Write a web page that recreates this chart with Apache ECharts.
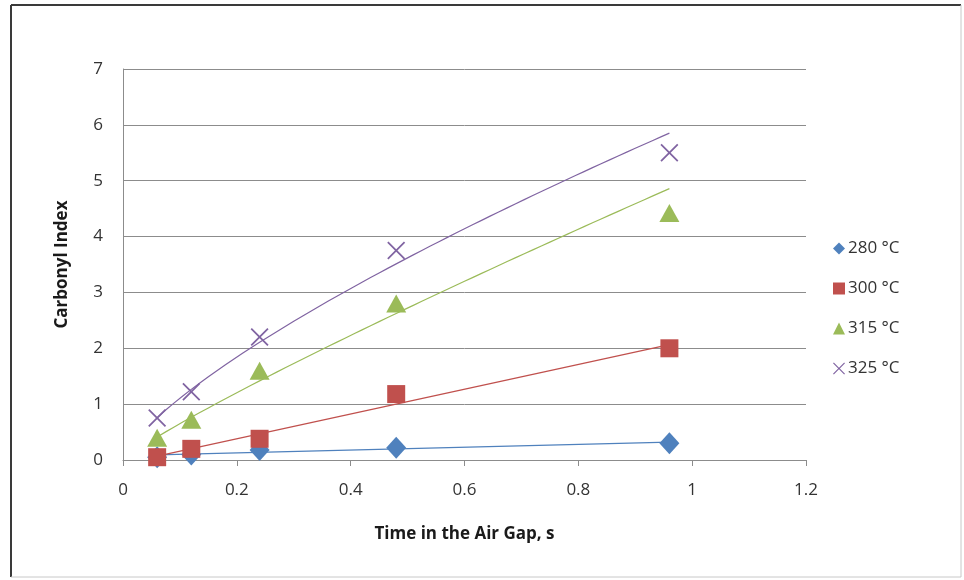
<!DOCTYPE html>
<html>
<head>
<meta charset="utf-8">
<script src="https://cdn.jsdelivr.net/npm/echarts@6/dist/echarts.min.js"></script>
<style>
html,body{margin:0;padding:0;background:#fff;}
#chart{width:964px;height:580px;}
</style>
</head>
<body>
<div id="chart"></div>
<script>
// ---- data ----
var timeValues = [0.06, 0.12, 0.24, 0.48, 0.96];
var seriesNames = ['280 °C', '300 °C', '315 °C', '325 °C'];
var ci280 = [0.05, 0.10, 0.18, 0.22, 0.30];
var ci300 = [0.05, 0.20, 0.38, 1.18, 2.00];
var ci315 = [0.40, 0.72, 1.60, 2.80, 4.42];
var ci325 = [0.75, 1.22, 2.20, 3.75, 5.50];
var trendTypes = ['linear', 'linear', 'power', 'power'];
var xTicks = [0, 0.2, 0.4, 0.6, 0.8, 1, 1.2];
var yTicks = [0, 1, 2, 3, 4, 5, 6, 7];

var allValues = [ci280, ci300, ci315, ci325];
var colors = ['#4F81BD', '#C0504D', '#9BBB59', '#8064A2'];
var symbols = [
  'diamond',
  'rect',
  'triangle',
  'path://M0,0.7 L0.7,0 L5,4.3 L9.3,0 L10,0.7 L5.7,5 L10,9.3 L9.3,10 L5,5.7 L0.7,10 L0,9.3 L4.3,5 Z'
];
var symbolSizes = [[20, 22], 18, [20, 18], 18];

// least-squares fits (Excel-style trendlines)
function fitLinear(xs, ys) {
  var n = xs.length, mx = 0, my = 0;
  for (var i = 0; i < n; i++) { mx += xs[i]; my += ys[i]; }
  mx /= n; my /= n;
  var sxy = 0, sxx = 0;
  for (i = 0; i < n; i++) { sxy += (xs[i] - mx) * (ys[i] - my); sxx += (xs[i] - mx) * (xs[i] - mx); }
  var b = sxy / sxx, a = my - b * mx;
  return function (x) { return a + b * x; };
}
function fitPower(xs, ys) {
  var lx = xs.map(Math.log), ly = ys.map(Math.log);
  var f = fitLinear(lx, ly);
  return function (x) { return Math.exp(f(Math.log(x))); };
}
function trendPoints(xs, ys, type) {
  var f = type === 'power' ? fitPower(xs, ys) : fitLinear(xs, ys);
  var x0 = xs[0], x1 = xs[xs.length - 1], pts = [];
  var steps = type === 'power' ? 60 : 1;
  for (var k = 0; k <= steps; k++) {
    var x = x0 + (x1 - x0) * k / steps;
    pts.push([x, f(x)]);
  }
  return pts;
}

var series = [];
allValues.forEach(function (vals, i) {
  series.push({
    name: seriesNames[i] + ' trend',
    type: 'line',
    data: trendPoints(timeValues, vals, trendTypes[i]),
    showSymbol: false,
    symbol: 'none',
    smooth: false,
    lineStyle: { color: colors[i], width: 1.2 },
    z: 2,
    silent: true
  });
});
allValues.forEach(function (vals, i) {
  series.push({
    name: seriesNames[i],
    type: 'scatter',
    data: timeValues.map(function (t, j) { return [t, vals[j]]; }),
    symbol: symbols[i],
    symbolSize: symbolSizes[i],
    itemStyle: { color: colors[i], opacity: 1 },
    z: 3 + i
  });
});

var chart = echarts.init(document.getElementById('chart'), null, { renderer: 'canvas' });
var font = '"Open Sans", Lato, sans-serif';
chart.setOption({
  animation: false,
  backgroundColor: '#ffffff',
  textStyle: { fontFamily: font },
  color: colors,
  grid: { left: 123, right: 158, top: 69, bottom: 120, containLabel: false },
  legend: {
    data: seriesNames.map(function (n, i) {
      return { name: n, icon: symbols[i] };
    }),
    orient: 'vertical',
    left: 828,
    top: 235,
    itemWidth: 12,
    itemHeight: 12,
    itemGap: 23,
    textStyle: { fontFamily: font, fontSize: 17, color: '#333333', padding: [0, 0, 0, -2] }
  },
  xAxis: {
    type: 'value',
    min: xTicks[0],
    max: xTicks[xTicks.length - 1],
    interval: 0.2,
    name: 'Time in the Air Gap, s',
    nameLocation: 'middle',
    nameGap: 66,
    nameTextStyle: { fontFamily: font, fontSize: 17, fontWeight: 'bold', color: '#1a1a1a' },
    axisLine: { show: true, lineStyle: { color: '#8c8c8c', width: 1 } },
    axisTick: { show: true, length: 6, inside: false, lineStyle: { color: '#8c8c8c' } },
    axisLabel: { fontSize: 17, color: '#333333', margin: 22,
      formatter: function (v) { return String(Math.round(v * 10) / 10); } },
    splitLine: { show: false }
  },
  yAxis: {
    type: 'value',
    min: yTicks[0],
    max: yTicks[yTicks.length - 1],
    interval: 1,
    name: 'Carbonyl Index',
    nameLocation: 'middle',
    nameGap: 52,
    nameTextStyle: { fontFamily: font, fontSize: 17, fontWeight: 'bold', color: '#1a1a1a' },
    axisLine: { show: true, lineStyle: { color: '#8c8c8c', width: 1 } },
    axisTick: { show: false },
    axisLabel: { fontSize: 17, color: '#333333', margin: 20 },
    splitLine: { show: true, lineStyle: { color: '#8c8c8c', width: 1 } }
  },
  graphic: [
    { type: 'line', shape: { x1: 11, y1: 5, x2: 961, y2: 5 }, style: { stroke: '#3a3a3a', lineWidth: 2 } },
    { type: 'line', shape: { x1: 11, y1: 5, x2: 11, y2: 577 }, style: { stroke: '#3a3a3a', lineWidth: 2 } },
    { type: 'line', shape: { x1: 11, y1: 577, x2: 961, y2: 577 }, style: { stroke: '#c8c8c8', lineWidth: 1 } },
    { type: 'line', shape: { x1: 961, y1: 5, x2: 961, y2: 577 }, style: { stroke: '#c8c8c8', lineWidth: 1 } }
  ],
  series: series
});
</script>
</body>
</html>
